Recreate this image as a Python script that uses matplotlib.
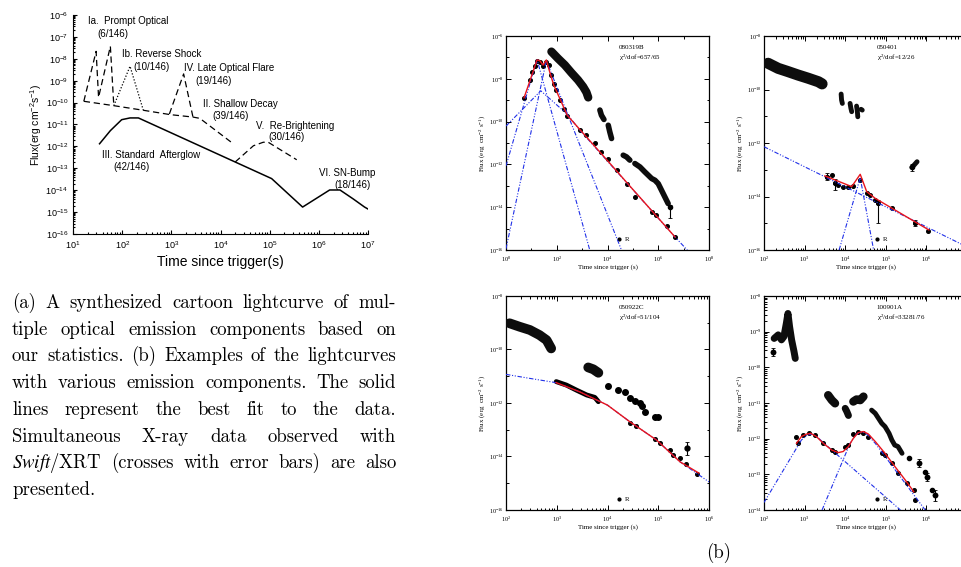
import numpy as np
import matplotlib
matplotlib.use('Agg')
import matplotlib.pyplot as plt
from matplotlib.ticker import LogLocator, NullFormatter

W, H = 961, 567

# ---------------- panel (a): cartoon lightcurve (log10 t, log10 F) ----------------
a_solid_t = [1.54, 1.76, 1.99, 2.16, 2.33, 5.04, 5.67, 6.22, 6.43, 6.70, 6.93, 7.0]
a_solid_f = [-11.88, -11.28, -10.78, -10.70, -10.70, -13.47, -14.77, -13.99, -13.99, -14.40, -14.77, -14.86]
a_shallow_t = [1.22, 1.83, 2.43, 2.98, 3.44, 3.58, 4.26]
a_shallow_f = [-9.94, -10.14, -10.35, -10.55, -10.66, -10.72, -11.88]
a_prompt_t = [1.22, 1.47, 1.52, 1.76, 1.83]
a_prompt_f = [-9.94, -7.66, -9.76, -7.43, -10.14]
a_rs_t = [1.83, 2.16, 2.43]
a_rs_f = [-10.14, -8.34, -10.35]
a_flare_t = [2.96, 3.25, 3.44]
a_flare_f = [-10.52, -8.69, -10.66]
a_rebr_t = [4.30, 4.67, 4.87, 4.97, 5.55]
a_rebr_f = [-12.71, -11.97, -11.81, -11.81, -12.61]

a_labels = ['Ia.  Prompt Optical', '(6/146)', 'Ib. Reverse Shock', '(10/146)',
            'IV. Late Optical Flare', '(19/146)', 'II. Shallow Decay', '(39/146)',
            'V.  Re-Brightening', '(30/146)', 'III. Standard  Afterglow', '(42/146)',
            'VI. SN-Bump', '(18/146)']
a_label_t = [1.30, 1.49, 1.99, 2.22, 3.25, 3.48, 3.64, 3.84, 4.72, 4.97, 1.58, 1.83, 6.01, 6.32]
a_label_f = [-6.29, -6.87, -7.78, -8.39, -8.42, -9.00, -10.06, -10.63, -11.05, -11.57, -12.41, -12.94, -13.21, -13.75]

# ---------------- panel (b1): 080319B ----------------
b1_xray = [
    ([1.79, 2.05, 2.32, 2.58, 2.84, 3.04, 3.17, 3.24], [-6.73, -7.05, -7.36, -7.72, -8.06, -8.37, -8.63, -8.87], 6.0),
    ([3.70, 3.76, 3.86], [-9.46, -9.70, -9.90], 4.0),
    ([4.03, 4.09, 4.16], [-10.17, -10.48, -10.79], 4.0),
    ([4.62, 4.75, 4.88], [-11.57, -11.65, -11.80], 4.0),
    ([5.08, 5.28, 5.47, 5.61, 5.74, 5.87, 6.0, 6.13, 6.26, 6.39], [-11.96, -12.12, -12.35, -12.51, -12.66, -12.74, -12.90, -13.21, -13.52, -13.83], 4.0),
]
b1_err_t, b1_err_f, b1_err_lo, b1_err_hi = [6.46], [-14.0], [-14.5], [-13.9]
b1_opt_t = [0.71, 0.96, 1.04, 1.13, 1.22, 1.33, 1.46, 1.59, 1.68, 1.79, 1.88, 1.99, 2.12, 2.28, 2.41,
            2.91, 3.17, 3.50, 3.76, 4.03, 4.36, 4.75, 5.08, 5.74, 5.93, 6.33, 6.66]
b1_opt_f = [-8.89, -8.06, -7.67, -7.40, -7.15, -7.20, -7.40, -7.20, -7.36, -7.83, -8.26, -8.53, -9.0, -9.39, -9.73,
            -10.40, -10.63, -11.02, -11.41, -11.73, -12.27, -12.93, -13.52, -14.22, -14.35, -14.88, -15.39]
b1_fit_t = [0.71, 0.93, 1.13, 1.22, 1.33, 1.46, 1.59, 1.72, 1.88, 2.12, 2.41, 2.91, 3.57, 4.22, 4.88, 5.54, 6.66]
b1_fit_f = [-8.89, -8.14, -7.44, -7.12, -7.15, -7.36, -7.12, -7.67, -8.29, -8.92, -9.70, -10.37, -11.25, -12.12, -13.01, -13.89, -15.39]
b1_comps = [
    ([0, 1.37, 2.41, 2.91, 6.66, 7.18], [-10.21, -8.56, -9.65, -10.40, -15.39, -16.05]),
    ([0, 1.22, 3.30], [-12.07, -7.09, -16.0]),
    ([0, 1.59, 4.55], [-15.94, -7.15, -16.0]),
]

# ---------------- panel (b2): 050401 ----------------
b2_xray = [
    ([2.10, 2.35, 2.59, 2.84, 3.09, 3.34, 3.43], [-9.02, -9.21, -9.33, -9.46, -9.58, -9.71, -9.79], 8.0),
    ([3.90, 3.91, 3.93], [-10.17, -10.39, -10.52], 3.5),
    ([4.12, 4.14, 4.16], [-10.52, -10.70, -10.83], 3.5),
    ([4.28, 4.30, 4.31], [-10.62, -10.83, -11.02], 3.5),
    ([4.39, 4.42], [-10.74, -10.77], 3.5),
    ([5.64, 5.70, 5.77], [-12.91, -12.82, -12.70], 3.5),
]
b2_err_t, b2_err_f, b2_err_lo, b2_err_hi = [5.64], [-12.91], [-13.05], [-12.80]
b2_opt_t = [3.54, 3.67, 3.75, 3.83, 3.95, 4.08, 4.20, 4.37, 4.53, 4.61, 4.74, 4.82, 5.15, 5.73, 6.04]
b2_opt_f = [-13.26, -13.20, -13.51, -13.57, -13.63, -13.63, -13.61, -13.38, -13.88, -13.94, -14.13, -14.26, -14.44, -15.00, -15.28]
b2_oerr_t = [3.54, 3.75, 4.82, 5.73]
b2_oerr_f = [-13.26, -13.51, -14.26, -15.00]
b2_oerr_lo = [-13.40, -13.75, -15.00, -15.12]
b2_oerr_hi = [-13.12, -13.35, -14.12, -14.88]
b2_fit_t = [3.50, 4.16, 4.37, 4.53, 4.74, 6.06]
b2_fit_f = [-13.23, -13.63, -13.17, -13.82, -14.07, -15.25]
b2_comps = [
    ([2.0, 6.86], [-12.14, -15.78]),
    ([3.85, 4.37, 4.70], [-16.0, -13.30, -16.0]),
]

# ---------------- panel (b3): 050922C ----------------
b3_xray = [
    ([2.07, 2.27, 2.47, 2.66, 2.80, 2.89], [-9.02, -9.15, -9.27, -9.46, -9.65, -9.96], 7.0),
    ([3.62, 3.72, 3.82], [-10.67, -10.74, -10.87], 7.0),
]
b3_xpts_t = [4.01, 4.21, 4.34, 4.44, 4.54, 4.64, 4.67, 4.74, 4.93, 5.0]
b3_xpts_f = [-11.37, -11.52, -11.58, -11.83, -11.92, -11.99, -12.11, -12.33, -12.51, -12.51]
b3_err_t, b3_err_f, b3_err_lo, b3_err_hi = [5.56], [-13.70], [-13.95], [-13.45]
b3_opt_band_t = [2.99, 3.19, 3.39, 3.59, 3.75, 3.82]
b3_opt_band_f = [-11.20, -11.33, -11.52, -11.70, -11.79, -11.95]
b3_opt_t = [4.44, 4.57, 4.93, 5.03, 5.23, 5.30, 5.43, 5.55, 5.77]
b3_opt_f = [-12.76, -12.85, -13.36, -13.51, -13.76, -13.95, -14.07, -14.28, -14.66]
b3_comp_t = [2.0, 2.47, 2.99, 3.45, 4.0, 4.44, 4.97, 5.43, 6.0]
b3_comp_f = [-10.93, -11.08, -11.24, -11.58, -12.08, -12.70, -13.39, -14.20, -14.95]
b3_fit_t = [2.99, 3.45, 4.0, 4.44, 4.97, 5.43, 5.80]
b3_fit_f = [-11.24, -11.58, -12.08, -12.70, -13.39, -14.20, -14.62]

# ---------------- panel (b4): 100901A ----------------
b4_xray = [
    ([2.25, 2.35, 2.43, 2.49, 2.55, 2.59, 2.63, 2.68, 2.74, 2.77], [-9.19, -9.09, -9.23, -9.14, -8.77, -8.49, -8.86, -9.23, -9.56, -9.75], 5.0),
    ([3.58, 3.67, 3.75], [-10.78, -10.92, -11.01], 6.0),
    ([4.00, 4.04, 4.08], [-11.15, -11.24, -11.35], 5.0),
    ([4.20, 4.28, 4.37, 4.45], [-10.96, -10.90, -10.92, -10.82], 6.0),
    ([4.65, 4.74, 4.82, 4.90, 4.98, 5.08, 5.15, 5.22, 5.30, 5.40], [-11.20, -11.29, -11.43, -11.57, -11.66, -11.85, -12.04, -12.18, -12.22, -12.41], 3.5),
]
b4_xpts_t = [2.22, 5.56, 5.81, 5.97, 6.02, 6.14, 6.20]
b4_xpts_f = [-9.56, -12.55, -12.69, -12.93, -13.07, -13.44, -13.58]
b4_err_t = [2.22, 5.81, 6.02, 6.20]
b4_err_f = [-9.56, -12.69, -13.07, -13.58]
b4_err_lo = [-9.68, -12.80, -13.20, -13.75]
b4_err_hi = [-9.46, -12.58, -12.95, -13.45]
b4_opt_t = [2.80, 2.84, 2.96, 3.10, 3.25, 3.46, 3.67, 3.75, 4.0, 4.08, 4.20, 4.32, 4.45, 4.57, 4.90, 4.98, 5.15, 5.31, 5.52, 5.69, 5.73]
b4_opt_f = [-11.96, -12.13, -11.90, -11.85, -11.90, -12.13, -12.32, -12.36, -12.22, -12.18, -11.87, -11.80, -11.83, -11.94, -12.41, -12.46, -12.69, -12.97, -13.25, -13.44, -13.72]
b4_fit_t = [2.80, 2.92, 3.05, 3.15, 3.29, 3.46, 3.67, 3.83, 3.95, 4.08, 4.20, 4.32, 4.45, 4.57, 4.74, 4.98, 5.23, 5.48, 5.69]
b4_fit_f = [-12.13, -11.94, -11.87, -11.85, -11.94, -12.13, -12.32, -12.39, -12.36, -12.22, -11.99, -11.83, -11.80, -11.87, -12.08, -12.41, -12.79, -13.16, -13.49]
b4_comps = [
    ([2.0, 2.92, 3.05, 3.17, 3.29, 3.50, 5.36], [-13.79, -12.04, -11.91, -11.87, -11.93, -12.15, -14.0]),
    ([3.43, 4.12, 4.28, 4.41, 4.53, 4.74, 5.97], [-14.0, -12.13, -11.87, -11.81, -11.87, -12.13, -14.0]),
]

caption = [
    "(a) A synthesized cartoon lightcurve of mul-",
    "tiple optical emission components based on",
    "our statistics. (b) Examples of the lightcurves",
    "with various emission components. The solid",
    "lines represent the best fit to the data.",
    "Simultaneous X-ray data observed with",
    "$\\mathit{Swift}$/XRT (crosses with error bars) are also",
    "presented.",
]


def lg(a):
    return 10.0 ** np.asarray(a, dtype=float)


fam_a = ['Liberation Sans Narrow', 'Liberation Sans']
fam_b = 'Liberation Serif'
blue = '#2030e8'

fig = plt.figure(figsize=(W / 100, H / 100), dpi=100)

# ---- panel a
axA = fig.add_axes([73 / W, 1 - 234 / H, 295 / W, 219 / H])
axA.set_xscale('log')
axA.set_yscale('log')
axA.set_xlim(1e1, 1e7)
axA.set_ylim(1e-16, 1e-6)
axA.spines['top'].set_visible(False)
axA.spines['right'].set_visible(False)
axA.yaxis.set_major_locator(LogLocator(base=10, numticks=20))
axA.yaxis.set_minor_locator(LogLocator(base=10, subs=np.arange(2, 10), numticks=20))
axA.xaxis.set_minor_locator(LogLocator(base=10, subs=np.arange(2, 10), numticks=20))
axA.yaxis.set_minor_formatter(NullFormatter())
axA.xaxis.set_minor_formatter(NullFormatter())
axA.tick_params(which='both', direction='in', labelsize=6.5, labelfontfamily='Liberation Sans', width=0.8)
axA.tick_params(which='major', length=3)
axA.tick_params(which='minor', length=1.5)
axA.plot(lg(a_solid_t), lg(a_solid_f), color='k', lw=1.1)
dash = (0, (5, 3))
axA.plot(lg(a_shallow_t), lg(a_shallow_f), color='k', lw=0.9, ls=dash)
axA.plot(lg(a_prompt_t), lg(a_prompt_f), color='k', lw=0.9, ls=dash)
axA.plot(lg(a_rs_t), lg(a_rs_f), color='k', lw=0.9, ls=(0, (1, 1.5)))
axA.plot(lg(a_flare_t), lg(a_flare_f), color='k', lw=0.9, ls=dash)
axA.plot(lg(a_rebr_t), lg(a_rebr_f), color='k', lw=0.9, ls=dash)
for s, t, f in zip(a_labels, a_label_t, a_label_f):
    axA.text(10 ** t, 10 ** f, s, fontsize=7, family=fam_a, ha='left', va='center')
axA.set_xlabel('Time since trigger(s)', fontsize=10, family=fam_a, labelpad=3)
axA.set_ylabel('Flux(erg cm$\\mathregular{^{-2}}$s$\\mathregular{^{-1}}$)', fontsize=7.5, family=fam_a, labelpad=1)


# ---- panel b helpers
def setup_b(ax, xlim, ylim, xbase, ybase, xsubs, ysubs):
    ax.set_xscale('log')
    ax.set_yscale('log')
    ax.set_xlim(*xlim)
    ax.set_ylim(*ylim)
    ax.xaxis.set_major_locator(LogLocator(base=xbase, numticks=30))
    ax.yaxis.set_major_locator(LogLocator(base=ybase, numticks=30))
    ax.xaxis.set_minor_locator(LogLocator(base=10, subs=xsubs, numticks=30))
    ax.yaxis.set_minor_locator(LogLocator(base=10, subs=ysubs, numticks=30))
    ax.xaxis.set_minor_formatter(NullFormatter())
    ax.yaxis.set_minor_formatter(NullFormatter())
    ax.tick_params(which='both', direction='in', top=True, right=True, labelsize=4.5,
                   labelfontfamily=fam_b, width=0.7, pad=1.5)
    ax.tick_params(axis='x', which='major', pad=3.2)
    ax.tick_params(which='major', length=3.5)
    ax.tick_params(which='minor', length=1.8)
    for sp in ax.spines.values():
        sp.set_linewidth(0.9)
    ax.set_xlabel('Time since trigger (s)', fontsize=5, family=fam_b, labelpad=0)
    ax.set_ylabel('Flux (erg  cm$\\mathregular{^{-2}}$ s$\\mathregular{^{-1}}$)', fontsize=5, family=fam_b, labelpad=1)


def annotate_b(ax, name, chi):
    ax.text(0.555, 0.945, name, transform=ax.transAxes, fontsize=5, family=fam_b, va='center')
    ax.text(0.555, 0.897, 'χ$\\mathregular{^2}$/dof=' + chi, transform=ax.transAxes, fontsize=5, family=fam_b, va='center')
    ax.plot([0.555], [0.05], 'o', color='k', ms=2, transform=ax.transAxes)
    ax.text(0.585, 0.05, 'R', transform=ax.transAxes, fontsize=5, family=fam_b, va='center')


def draw_xray(ax, segs):
    for t, f, w in segs:
        ax.plot(lg(t), lg(f), '-', color='0.05', lw=w, solid_capstyle='round', solid_joinstyle='round', zorder=3)


def draw_err(ax, t, f, lo, hi, ms=2.5):
    ax.errorbar(lg(t), lg(f), yerr=[lg(f) - lg(lo), lg(hi) - lg(f)], fmt='o', color='k', ms=ms,
                elinewidth=0.8, capsize=1.2, capthick=0.6, zorder=4)


def draw_comps(ax, comps):
    for t, f in comps:
        ax.plot(lg(t), lg(f), color=blue, lw=0.8, ls=(0, (4, 1.5, 1, 1.5, 1, 1.5)), zorder=5)


def draw_fit(ax, t, f):
    ax.plot(lg(t), lg(f), color='#e8141c', lw=1.0, zorder=6)


bw, bh = 203 / W, 214 / H
ax1 = fig.add_axes([506 / W, 1 - 250 / H, bw, bh])
ax2 = fig.add_axes([764 / W, 1 - 250 / H, bw, bh])
ax3 = fig.add_axes([506 / W, 1 - 510 / H, bw, bh])
ax4 = fig.add_axes([764 / W, 1 - 510 / H, bw, bh])

dense = np.arange(2, 10)
setup_b(ax1, (1e0, 1e8), (1e-16, 1e-6), 100, 100, (1.0,), (1.0,))
setup_b(ax2, (1e2, 1e7), (1e-16, 1e-8), 10, 100, dense, (1.0,))
setup_b(ax3, (1e2, 1e6), (1e-16, 1e-8), 10, 100, dense, (1.0,))
setup_b(ax4, (1e2, 1e7), (1e-14, 1e-8), 10, 10, dense, dense)

# 080319B
draw_xray(ax1, b1_xray)
draw_err(ax1, b1_err_t, b1_err_f, b1_err_lo, b1_err_hi, ms=3)
ax1.plot(lg(b1_opt_t), lg(b1_opt_f), 'o', color='k', ms=2.6, zorder=4)
draw_comps(ax1, b1_comps)
draw_fit(ax1, b1_fit_t, b1_fit_f)
annotate_b(ax1, '080319B', '657/65')

# 050401
draw_xray(ax2, b2_xray)
draw_err(ax2, b2_err_t, b2_err_f, b2_err_lo, b2_err_hi, ms=3)
ax2.plot(lg(b2_opt_t), lg(b2_opt_f), 'o', color='k', ms=2.6, zorder=4)
draw_err(ax2, b2_oerr_t, b2_oerr_f, b2_oerr_lo, b2_oerr_hi)
draw_comps(ax2, b2_comps)
draw_fit(ax2, b2_fit_t, b2_fit_f)
annotate_b(ax2, '050401', '12/26')

# 050922C
draw_xray(ax3, b3_xray)
ax3.plot(lg(b3_xpts_t), lg(b3_xpts_f), 'o', color='k', ms=4, zorder=3)
draw_err(ax3, b3_err_t, b3_err_f, b3_err_lo, b3_err_hi, ms=3.5)
ax3.plot(lg(b3_opt_band_t), lg(b3_opt_band_f), '-', color='k', lw=3.5, solid_capstyle='round', zorder=4)
ax3.plot(lg(b3_opt_t), lg(b3_opt_f), 'o', color='k', ms=2.6, zorder=4)
ax3.plot(lg(b3_comp_t), lg(b3_comp_f), color=blue, lw=0.8, ls=(0, (4, 1.5, 1, 1.5, 1, 1.5)), zorder=5)
draw_fit(ax3, b3_fit_t, b3_fit_f)
annotate_b(ax3, '050922C', '51/104')

# 100901A
draw_xray(ax4, b4_xray)
ax4.plot(lg(b4_xpts_t), lg(b4_xpts_f), 'o', color='k', ms=3, zorder=3)
draw_err(ax4, b4_err_t, b4_err_f, b4_err_lo, b4_err_hi, ms=3)
ax4.plot(lg(b4_opt_t), lg(b4_opt_f), 'o', color='k', ms=2.6, zorder=4)
draw_comps(ax4, b4_comps)
draw_fit(ax4, b4_fit_t, b4_fit_f)
annotate_b(ax4, '100901A', '33281/76')

# ---- caption (justified)
renderer = fig.canvas.get_renderer()
left, right = 12, 396
for i, line in enumerate(caption):
    y = 1 - (308 + 26.7 * i) / H
    words = line.split()
    texts = [fig.text(0, y, w, fontsize=13.5, family='cmr10',
                      math_fontfamily='stix' if '$' in w else 'cm', va='baseline', ha='left')
             for w in words]
    widths = [t.get_window_extent(renderer).width for t in texts]
    if i == len(caption) - 1 or len(words) == 1:
        gap = 5
    else:
        gap = (right - left - sum(widths)) / (len(words) - 1)
    x = left
    for t, wd in zip(texts, widths):
        t.set_x(x / W)
        x += wd + gap

fig.text(719 / W, 1 - 558 / H, '(b)', fontsize=13.5, family='cmr10', ha='center', va='baseline')

# hide tick labels that fall outside the view or off the page (right panels run past the edge)
fig.canvas.draw()
for ax in (axA, ax1, ax2, ax3, ax4):
    x0, x1 = ax.get_xlim()
    y0, y1 = ax.get_ylim()
    for lbl in ax.get_xticklabels():
        px = lbl.get_position()[0]
        if px < x0 * 0.999 or px > x1 * 1.001 or (ax in (ax2, ax4) and px > 5e6):
            lbl.set_visible(False)
    for lbl in ax.get_yticklabels():
        py = lbl.get_position()[1]
        if py < y0 * 0.999 or py > y1 * 1.001:
            lbl.set_visible(False)

fig.savefig('out.png', dpi=100)
